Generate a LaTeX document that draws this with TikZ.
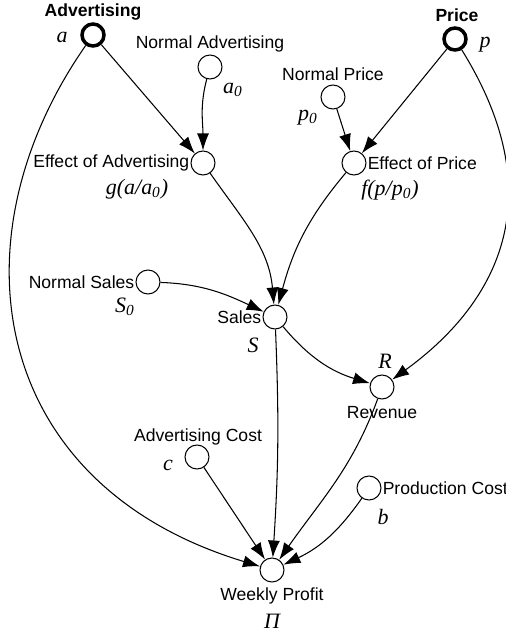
\documentclass[tikz,border=0pt]{standalone}
\usepackage{fontspec}
\setmainfont{Liberation Sans}
\newfontfamily\tmsfont{Liberation Serif}
\usetikzlibrary{arrows.meta,positioning}
\begin{document}
\begin{tikzpicture}[x=0.02cm,y=-0.02cm,
    var/.style={circle,draw,line width=0.6pt,minimum size=0.48cm,inner sep=0pt},
    dec/.style={circle,draw,line width=2pt,minimum size=0.44cm,inner sep=0pt},
    lbl/.style={font=\fontsize{10}{12}\selectfont,inner sep=0.5pt},
    blbl/.style={font=\fontsize{10}{12}\selectfont\bfseries,inner sep=0.5pt},
    sym/.style={font=\fontsize{12.5}{14}\selectfont\tmsfont\itshape,inner sep=0.5pt},
    link/.style={line width=0.6pt,-{Latex[length=3.4mm,width=2.4mm]}}]
\useasboundingbox (0,0) rectangle (506,635);

\node[dec] (adv) at (93,35) {};
\node[var] (nadv) at (210,67) {};
\node[var] (eadv) at (203,163) {};
\node[dec] (price) at (455,39) {};
\node[var] (npr) at (333,97) {};
\node[var] (epr) at (354,163) {};
\node[var] (ns) at (148,282) {};
\node[var] (sales) at (275,317) {};
\node[var] (rev) at (382,387) {};
\node[var] (ac) at (197,457) {};
\node[var] (pc) at (369,488) {};
\node[var] (wp) at (272,570) {};

\node[blbl] (advlbl) at (93,12) {Advertising};
\node[sym] (advsym) at (62,37) {a};
\node[lbl] (nadvlbl) at (210,44) {Normal Advertising};
\node[sym] (nadvsym) at (233,90) {a\textsubscript{0}};
\node[lbl,anchor=east] (eadvlbl) at (eadv.west) {Effect of Advertising};
\node[sym] (eadvsym) at (137,189) {g(a/a\textsubscript{0})};
\node[blbl] (pricelbl) at (457,15) {Price};
\node[sym] (pricesym) at (485,45) {p};
\node[lbl] (nprlbl) at (333,74) {Normal Price};
\node[sym] (nprsym) at (308,118) {p\textsubscript{0}};
\node[lbl,anchor=west] (eprlbl) at (epr.east) {Effect of Price};
\node[sym] (eprsym) at (390,190) {f(p/p\textsubscript{0})};
\node[lbl,anchor=east] (nslbl) at (ns.west) {Normal Sales};
\node[sym] (nssym) at (125,307) {S\textsubscript{0}};
\node[lbl,anchor=east] (saleslbl) at (sales.west) {Sales};
\node[sym] (salessym) at (253,345) {S};
\node[sym] (revsym) at (385,361) {R};
\node[lbl] (revlbl) at (382,413) {Revenue};
\node[lbl] (aclbl) at (198,437) {Advertising Cost};
\node[sym] (acsym) at (168,465) {c};
\node[lbl,anchor=west] (pclbl) at (pc.east) {Production Cost};
\node[sym] (pcsym) at (383,517) {b};
\node[lbl] (wplbl) at (272,596) {Weekly Profit};
\node[sym] (wpsym) at (272,621) {Π};

\draw[link] (adv) -- (eadv);
\draw[link] (nadv) to[out=-105,in=90] (eadv);
\draw[link] (adv) .. controls (-50,240) and (-10,485) .. (wp);
\draw[link] (price) -- (epr);
\draw[link] (npr) -- (epr);
\draw[link] (price) .. controls (555,200) and (495,305) .. (rev);
\draw[link] (eadv) to[out=-55,in=95] (sales);
\draw[link] (epr) to[out=-130,in=75] (sales);
\draw[link] (ns) to[out=-2,in=155] (sales);
\draw[link] (sales) to[out=-50,in=163] (rev);
\draw[link] (sales) to[bend left=3] (wp);
\draw[link] (rev) to[out=-110,in=55] (wp);
\draw[link] (ac) -- (wp);
\draw[link] (pc) to[out=-125,in=25] (wp);
\end{tikzpicture}
\end{document}
